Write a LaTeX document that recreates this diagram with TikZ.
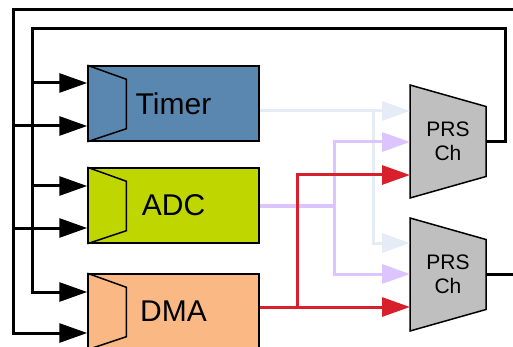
\documentclass[tikz,border=0pt]{standalone}
\usepackage{fontspec}
\setmainfont{Liberation Sans}
\usetikzlibrary{arrows.meta,calc}
\definecolor{timerblue}{HTML}{5A87B0}
\definecolor{adcgreen}{HTML}{BFD600}
\definecolor{dmaorange}{HTML}{F9B884}
\definecolor{prsgray}{HTML}{BFBFBF}
\definecolor{paleblue}{HTML}{E6ECF6}
\definecolor{lilac}{HTML}{DCC4FF}
\definecolor{sigred}{HTML}{D8202C}
\begin{document}
\begin{tikzpicture}[x=1pt,y=-1pt]
\tikzstyle{every node}=[inner sep=0pt]
\tikzstyle{block}=[draw,line width=1.5pt,minimum width=171pt,minimum height=75pt,font=\fontsize{30}{30}\selectfont]
\tikzstyle{prsbody}=[draw,line width=1.5pt,fill=prsgray,line join=miter]
\tikzstyle{prslabel}=[align=center,font=\fontsize{21}{24}\selectfont]
\tikzstyle{bus}=[line width=3pt]
\tikzstyle{tip}=[-{Triangle[length=28pt,width=19pt]}]
\useasboundingbox (0,0) rectangle (513,347);
\clip (0,0) rectangle (513,347);
% peripherals
\draw (173.5,103.5) node (timer) [block,fill=timerblue] {Timer};
\draw (173.5,205.5) node (adc) [block,fill=adcgreen] {ADC};
\draw (173.5,311.5) node (dma) [block,fill=dmaorange] {DMA};
\foreach \b in {timer,adc,dma}
  \draw[line width=1.5pt] (\b.north west) -- ++(39,14) -- ($(\b.south west)+(39,-13)$) -- (\b.south west);
% prs channels
\coordinate (prs1) at (448,141.5);
\coordinate (prs2) at (448,274.5);
\foreach \c in {prs1,prs2}
  \draw[prsbody] ($(\c)+(-38,-56.5)$) -- ($(\c)+(38,-35)$) -- ($(\c)+(38,35)$) -- ($(\c)+(-38,56.5)$) -- cycle;
\draw (prs1) node (prs1txt) [prslabel] {PRS\\Ch};
\draw (prs2) node (prs2txt) [prslabel] {PRS\\Ch};
\coordinate (p1a) at (410,111);
\coordinate (p1b) at (410,142);
\coordinate (p1c) at (410,175);
\coordinate (p2a) at (410,243);
\coordinate (p2b) at (410,274);
\coordinate (p2c) at (410,307);
\coordinate (p1out) at (486,142);
\coordinate (p2out) at (486,274);
% signals into prs
\draw[bus,paleblue,tip] (timer.east |- p1a) -- (p1a);
\draw[bus,paleblue,tip] (373,111) -- (373,243) -- (p2a);
\draw[bus,lilac] (adc.east |- 0,206) -- (334,206);
\draw[bus,lilac,tip] (334,206) -- (334,142) -- (p1b);
\draw[bus,lilac,tip] (334,206) -- (334,274) -- (p2b);
\draw[bus,sigred] (dma.east |- p2c) -- (297,307);
\draw[bus,sigred,tip] (297,307) -- (297,175) -- (p1c);
\draw[bus,sigred,tip] (297,307) -- (p2c);
% feedback loops
\draw[bus,tip] (p1out) -- (505,142) -- (505,29) -- (32,29) -- (32,292) -- (dma.west |- 0,292);
\draw[bus,tip] (32,83) -- (timer.west |- 0,83);
\draw[bus,tip] (32,186) -- (adc.west |- 0,186);
\draw[bus,tip] (p2out) -- (530,274) -- (530,10) -- (13,10) -- (13,333) -- (dma.west |- 0,333);
\draw[bus,tip] (13,126) -- (timer.west |- 0,126);
\draw[bus,tip] (13,228) -- (adc.west |- 0,228);
\end{tikzpicture}
\end{document}
